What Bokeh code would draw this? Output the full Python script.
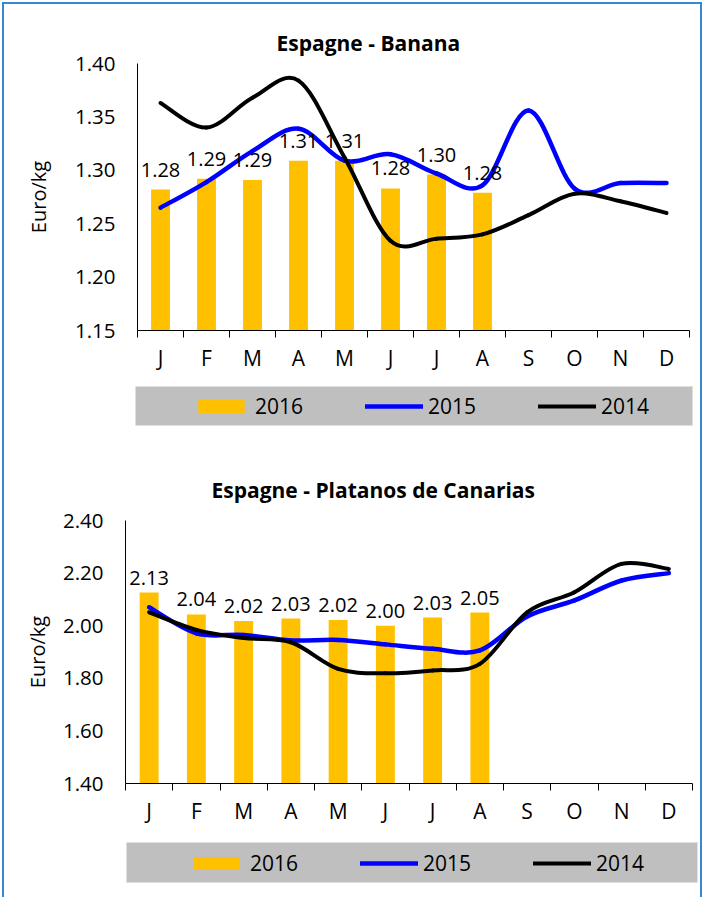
import numpy as np
from bokeh.plotting import figure
from bokeh.models import (Range1d, FixedTicker, NumeralTickFormatter, Legend, LegendItem,
                          ColumnDataSource)
from bokeh.embed import file_html
from bokeh.resources import INLINE
from bokeh.core.properties import value

# ---------------- data ----------------
months = ["J", "F", "M", "A", "M", "J", "J", "A", "S", "O", "N", "D"]
series_names = ["2016", "2015", "2014"]
y_axis_label = "Euro/kg"

banana_title = "Espagne - Banana"
banana_2016 = [1.282, 1.292, 1.291, 1.309, 1.309, 1.283, 1.296, 1.279]
banana_2015 = [1.265, 1.289, 1.318, 1.339, 1.309, 1.315, 1.297, 1.286, 1.356, 1.283, 1.288, 1.288]
banana_2014 = [1.363, 1.340, 1.368, 1.384, 1.312, 1.234, 1.236, 1.240, 1.258, 1.278, 1.271, 1.260]
banana_yticks = [1.15, 1.20, 1.25, 1.30, 1.35, 1.40]

platanos_title = "Espagne - Platanos de Canarias"
platanos_2016 = [2.126, 2.043, 2.018, 2.027, 2.022, 2.000, 2.031, 2.050]
platanos_2015 = [2.070, 1.971, 1.965, 1.944, 1.946, 1.929, 1.912, 1.906, 2.035, 2.096, 2.172, 2.200]
platanos_2014 = [2.051, 1.984, 1.953, 1.937, 1.836, 1.819, 1.830, 1.855, 2.051, 2.127, 2.235, 2.216]
platanos_yticks = [1.40, 1.60, 1.80, 2.00, 2.20, 2.40]

# ---------------- style ----------------
FONT = "Open Sans"
C16, C15, C14 = "#FFC000", "#0000FF", "#000000"
LEGEND_BG = "#BFBFBF"
EDGE = "#3A86D6"
W15, W14 = 4.5, 4


def edge_styles(top):
    sh = ["inset 2px 0 0 0 white", "inset -3px 0 0 0 white"]
    if top:
        sh.append("inset 0 2px 0 0 white")
    sh += [f"inset 4px 0 0 0 {EDGE}", f"inset -5px 0 0 0 {EDGE}"]
    if top:
        sh.append(f"inset 0 4px 0 0 {EDGE}")
    return {"box-shadow": ", ".join(sh)}


def smooth_segments(ys):
    """Excel-like smoothed line: cubic Bezier segments through the data points."""
    xs = np.arange(1, len(ys) + 1, dtype=float)
    ys = np.asarray(ys, dtype=float)
    n = len(xs)
    px = np.concatenate([[xs[0]], xs, [xs[-1]]])
    py = np.concatenate([[ys[0]], ys, [ys[-1]]])
    return dict(
        x0=xs[:-1], y0=ys[:-1], x1=xs[1:], y1=ys[1:],
        cx0=xs[:-1] + (px[2:n + 1] - px[0:n - 1]) / 6.0,
        cy0=ys[:-1] + (py[2:n + 1] - py[0:n - 1]) / 6.0,
        cx1=xs[1:] - (px[3:n + 2] - px[1:n]) / 6.0,
        cy1=ys[1:] - (py[3:n + 2] - py[1:n]) / 6.0,
    )


def make_chart(title, v16, v15, v14, yticks, L):
    p = figure(width=L["w"], height=L["h"], output_backend="svg", toolbar_location=None,
               min_border_left=L["bl"], min_border_right=L["br"],
               min_border_top=L["bt"], min_border_bottom=L["bb"],
               x_range=Range1d(0.5, len(months) + 0.5),
               y_range=Range1d(yticks[0], yticks[-1]))
    p.outline_line_color = None
    p.xgrid.visible = False
    p.ygrid.visible = False
    p.background_fill_color = "white"
    p.border_fill_color = None
    p.styles = edge_styles(L["top_edge"])

    # title
    p.title.text = title
    p.title.align = "left"
    p.title.offset = L["toff"]
    p.title.standoff = L["tstand"]
    p.title.text_font = FONT
    p.title.text_font_size = "21px"
    p.title.text_font_style = "bold"
    p.title.text_color = "#000000"

    # bars 2016
    bx = list(range(1, len(v16) + 1))
    src = ColumnDataSource(dict(x=bx, top=v16, lab=[f"{v:.2f}" for v in v16]))
    p.vbar(x="x", top="top", bottom=yticks[0], width=L["bw"], source=src,
           fill_color=C16, line_color=None)
    # smoothed lines
    for vals, col, lw in ((v15, C15, W15), (v14, C14, W14)):
        p.bezier(source=ColumnDataSource(smooth_segments(vals)), x0="x0", y0="y0", x1="x1", y1="y1",
                 cx0="cx0", cy0="cy0", cx1="cx1", cy1="cy1",
                 line_color=col, line_width=lw, line_cap="round")
    # data labels
    p.text(x="x", y="top", text="lab", source=src, text_align="center",
           text_baseline="alphabetic", y_offset=-L["lab_off"],
           text_font=value(FONT), text_font_size="20px", text_color="#000000")

    # axes
    xa = p.xaxis[0]
    xa.ticker = FixedTicker(ticks=list(range(1, len(months) + 1)),
                            minor_ticks=list(np.arange(0.5, len(months) + 1, 1.0)))
    xa.major_label_overrides = {i + 1: m for i, m in enumerate(months)}
    xa.major_tick_line_color = None
    xa.major_tick_out = 7
    xa.major_tick_in = 0
    xa.minor_tick_line_color = "black"
    xa.minor_tick_out = 7
    xa.minor_tick_in = 0
    xa.axis_line_color = "black"
    xa.major_label_standoff = L["xstand"]
    xa.major_label_text_font = FONT
    xa.major_label_text_font_size = "21px"
    xa.major_label_text_color = "#000000"

    ya = p.yaxis[0]
    ya.ticker = FixedTicker(ticks=yticks)
    ya.formatter = NumeralTickFormatter(format="0.00")
    ya.major_tick_line_color = None
    ya.major_tick_out = 0
    ya.major_tick_in = 0
    ya.minor_tick_line_color = None
    ya.axis_line_color = "black"
    ya.major_label_standoff = 22
    ya.major_label_text_font = FONT
    ya.major_label_text_font_size = "20.5px"
    ya.major_label_text_color = "#000000"
    ya.axis_label = y_axis_label
    ya.axis_label_text_font = FONT
    ya.axis_label_text_font_size = "20px"
    ya.axis_label_text_font_style = "normal"
    ya.axis_label_text_color = "#000000"
    ya.axis_label_standoff = L["ylstand"]
    return p


def make_legend_strip(v16, v15, v14, L):
    # the series are drawn here only as legend proxies, outside the strip's visible range
    lg = figure(width=L["w"], height=L["h"], output_backend="svg", toolbar_location=None,
                min_border_left=L["bl"], min_border_right=L["br"],
                min_border_top=L["bt"], min_border_bottom=L["bb"],
                x_range=Range1d(-3, -2), y_range=Range1d(-3, -2),
                x_axis_type=None, y_axis_type=None)
    lg.outline_line_color = None
    lg.xgrid.visible = False
    lg.ygrid.visible = False
    lg.background_fill_color = LEGEND_BG
    lg.border_fill_color = None
    lg.styles = edge_styles(False)
    g16 = lg.vbar(x=list(range(1, len(v16) + 1)), top=v16, width=0.4,
                  fill_color=C16, line_color=None)
    g15 = lg.line(x=list(range(1, len(v15) + 1)), y=v15, line_color=C15, line_width=W15,
                  line_cap="round")
    g14 = lg.line(x=list(range(1, len(v14) + 1)), y=v14, line_color=C14, line_width=W14,
                  line_cap="round")
    legend = Legend(items=[LegendItem(label=series_names[0], renderers=[g16]),
                           LegendItem(label=series_names[1], renderers=[g15]),
                           LegendItem(label=series_names[2], renderers=[g14])],
                    location=(L["lx"], L["ly"]), orientation="horizontal",
                    glyph_width=58, glyph_height=16, label_standoff=5, label_width=48,
                    spacing=62, padding=0, margin=0,
                    background_fill_alpha=0.0, border_line_color=None,
                    label_text_font=FONT, label_text_font_size="21px",
                    label_text_color="#000000")
    lg.add_layout(legend)
    return lg


L_top = dict(w=705, h=380, bl=137, br=16, bt=63, bb=50, bw=0.41, lab_off=20, xstand=6,
             ylstand=20, toff=139, tstand=14, top_edge=True)
L_leg1 = dict(w=705, h=60, bl=135, br=13, bt=6, bb=15, lx=57, ly=5)
L_bot = dict(w=705, h=400, bl=125, br=13, bt=80, bb=57, bw=0.40, lab_off=15, xstand=6,
             ylstand=9, toff=86, tstand=34, top_edge=False)
L_leg2 = dict(w=705, h=57, bl=126, br=8, bt=2, bb=15, lx=61, ly=5)

p1 = make_chart(banana_title, banana_2016, banana_2015, banana_2014, banana_yticks, L_top)
l1 = make_legend_strip(banana_2016, banana_2015, banana_2014, L_leg1)
p2 = make_chart(platanos_title, platanos_2016, platanos_2015, platanos_2014, platanos_yticks, L_bot)
l2 = make_legend_strip(platanos_2016, platanos_2015, platanos_2014, L_leg2)

open("out.html", "w").write(file_html([p1, l1, p2, l2], INLINE))
